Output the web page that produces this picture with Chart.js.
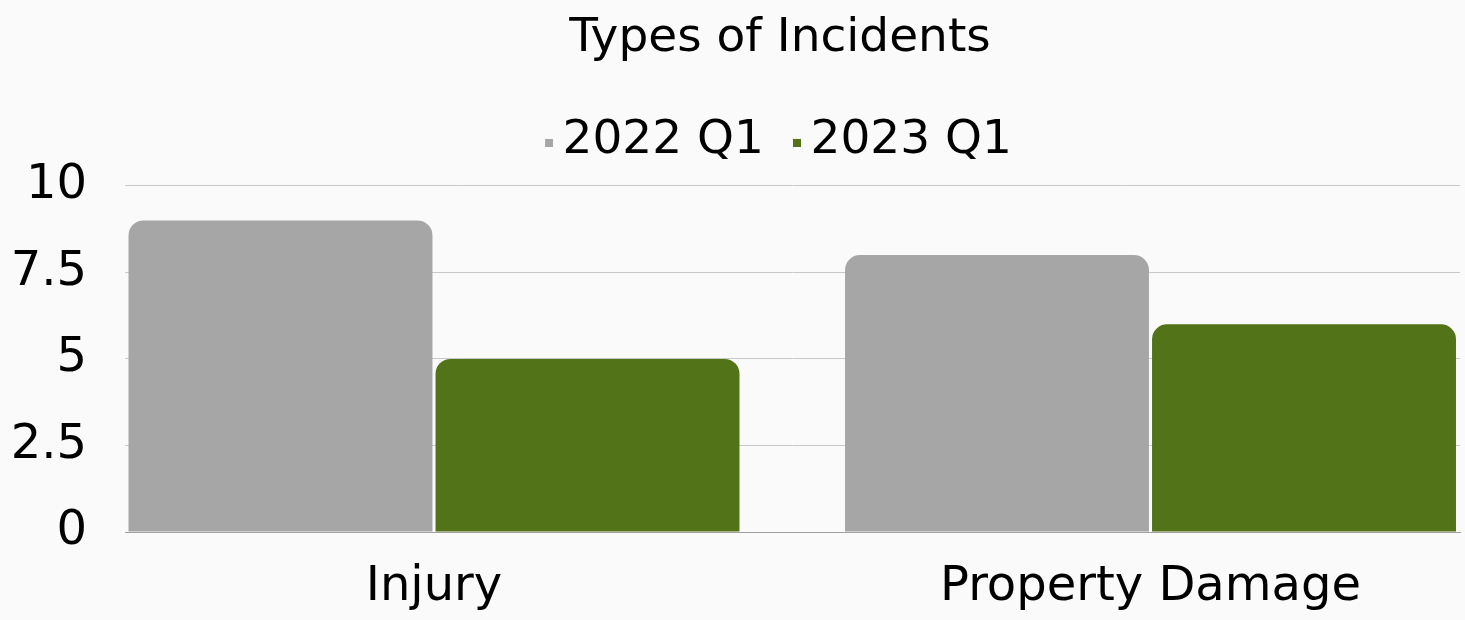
<!DOCTYPE html>
<html lang="en">
<head>
    <meta charset="UTF-8">
    <title>Types of Incidents</title>
    <script src="https://cdn.jsdelivr.net/npm/chart.js"></script>
    <style>
        body {
            margin: 0;
            background-color: #fafafa;
        }
        .chart-box {
            width: 1465px;
            height: 620px;
            position: relative;
        }
    </style>
</head>
<body>
    <div class="chart-box">
        <canvas id="incidentChart"></canvas>
    </div>

    <script>
        // chart data
        const categories = ['Injury', 'Property Damage'];
        const seriesNames = ['2022 Q1', '2023 Q1'];
        const values2022 = [9, 8];
        const values2023 = [5, 6];
        const yTicks = [0, 2.5, 5, 7.5, 10];

        const seriesColors = ['#a6a6a6', '#537318'];

        // little square marker, drawn at the right end of a wider canvas so the
        // legend text sits close to it
        function makeMarker(color) {
            const c = document.createElement('canvas');
            c.width = 36;
            c.height = 12;
            const ctx = c.getContext('2d');
            ctx.fillStyle = color;
            ctx.fillRect(28, 4, 8, 8);
            return c;
        }

        function toPoints(vals) {
            return vals.map((v, i) => ({ x: i, y: v }));
        }

        // nudge title + legend a bit left, like the original
        const shiftHeader = {
            id: 'shiftHeader',
            afterLayout(chart) {
                if (chart.titleBlock) chart.titleBlock.right -= 25;
                if (chart.legend) chart.legend.right -= 42;
            }
        };

        Chart.defaults.font.family = '"DejaVu Sans", sans-serif';
        Chart.defaults.color = '#000';

        new Chart(document.getElementById('incidentChart'), {
            type: 'bar',
            data: {
                datasets: [
                    {
                        label: seriesNames[0],
                        data: toPoints(values2022),
                        backgroundColor: seriesColors[0]
                    },
                    {
                        label: seriesNames[1],
                        data: toPoints(values2023),
                        backgroundColor: seriesColors[1]
                    }
                ]
            },
            plugins: [shiftHeader],
            options: {
                responsive: true,
                maintainAspectRatio: false,
                animation: false,
                layout: {
                    padding: { left: 0, right: 5, top: 5, bottom: 0 }
                },
                datasets: {
                    bar: {
                        categoryPercentage: 0.857,
                        barPercentage: 0.99,
                        borderRadius: { topLeft: 15, topRight: 15 },
                        borderSkipped: 'start'
                    }
                },
                plugins: {
                    title: {
                        display: true,
                        text: 'Types of Incidents',
                        fullSize: false,
                        font: { size: 47, weight: 'normal' },
                        padding: { top: 6, bottom: 35 }
                    },
                    legend: {
                        position: 'top',
                        fullSize: false,
                        labels: {
                            usePointStyle: true,
                            pointStyleWidth: 8,
                            boxHeight: 8,
                            padding: 15,
                            font: { size: 47 },
                            generateLabels(chart) {
                                const items = Chart.defaults.plugins.legend.labels.generateLabels(chart);
                                items.forEach((it, i) => {
                                    it.pointStyle = makeMarker(seriesColors[i]);
                                });
                                return items;
                            }
                        }
                    },
                    tooltip: { enabled: false }
                },
                scales: {
                    x: {
                        type: 'linear',
                        offset: false,
                        min: -0.43126,
                        max: 1.43196,
                        grid: { display: false },
                        border: { display: true, color: '#a0a0a0', width: 1 },
                        afterBuildTicks(scale) {
                            scale.ticks = categories.map((c, i) => ({ value: i }));
                        },
                        afterFit(scale) {
                            scale.height = 88;
                        },
                        ticks: {
                            font: { size: 48 },
                            padding: 19,
                            maxRotation: 0,
                            callback: (value) => categories[value]
                        }
                    },
                    y: {
                        min: 0,
                        max: 10.33,
                        afterBuildTicks(scale) {
                            scale.ticks = yTicks.map(v => ({ value: v }));
                        },
                        afterFit(scale) {
                            scale.width = 125;
                        },
                        grid: { color: '#c8c8c8', drawTicks: false },
                        border: { display: false },
                        ticks: {
                            font: { size: 48 },
                            padding: 38
                        }
                    }
                }
            }
        });
    </script>
</body>
</html>
